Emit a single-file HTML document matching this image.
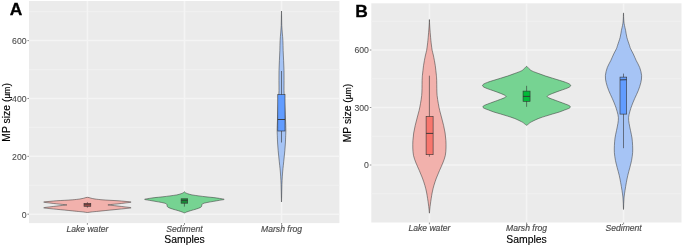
<!DOCTYPE html>
<html><head><meta charset="utf-8"><style>
html,body{margin:0;padding:0;background:#fff;width:685px;height:247px;overflow:hidden}
svg{display:block}
text{filter:url(#gs)}
text.rot{filter:none}
text{font-family:"Liberation Sans",sans-serif}
.tk{font-size:8.7px;fill:#4D4D4D;stroke:#4D4D4D;stroke-width:0.1px}
.tkx{font-size:8.6px;fill:#4D4D4D;font-style:italic;stroke:#4D4D4D;stroke-width:0.18px}
.ttl{font-size:10.4px;fill:#000;stroke:#000;stroke-width:0.15px}
.mu{font-size:8.5px}
.lab{font-size:17.4px;font-weight:bold;fill:#000;stroke:#000;stroke-width:0.3px}
</style></head><body>
<svg width="685" height="247" viewBox="0 0 685 247">
<defs><filter id="gs" x="-10%" y="-10%" width="120%" height="120%"><feColorMatrix type="saturate" values="1"/></filter></defs>
<g>
<rect width="685" height="247" fill="#fff"/>
<rect x="29.00" y="1.00" width="310.40" height="222.10" fill="#EBEBEB"/>
<line x1="29.00" x2="339.40" y1="185.27" y2="185.27" stroke="rgb(240,240,240)" stroke-width="1.2"/>
<line x1="29.00" x2="339.40" y1="127.40" y2="127.40" stroke="rgb(240,240,240)" stroke-width="1.2"/>
<line x1="29.00" x2="339.40" y1="69.53" y2="69.53" stroke="rgb(240,240,240)" stroke-width="1.2"/>
<line x1="29.00" x2="339.40" y1="11.67" y2="11.67" stroke="rgb(240,240,240)" stroke-width="1.2"/>
<line x1="29.00" x2="339.40" y1="214.20" y2="214.20" stroke="rgb(244,244,244)" stroke-width="1.5"/>
<line x1="29.00" x2="339.40" y1="156.33" y2="156.33" stroke="rgb(244,244,244)" stroke-width="1.5"/>
<line x1="29.00" x2="339.40" y1="98.47" y2="98.47" stroke="rgb(244,244,244)" stroke-width="1.5"/>
<line x1="29.00" x2="339.40" y1="40.60" y2="40.60" stroke="rgb(244,244,244)" stroke-width="1.5"/>
<line x1="87.40" x2="87.40" y1="1.00" y2="223.10" stroke="rgb(244,244,244)" stroke-width="1.5"/>
<line x1="184.50" x2="184.50" y1="1.00" y2="223.10" stroke="rgb(244,244,244)" stroke-width="1.5"/>
<line x1="281.60" x2="281.60" y1="1.00" y2="223.10" stroke="rgb(244,244,244)" stroke-width="1.5"/>
<path d="M87.40,197.30 C88.60,197.30 89.73,197.92 91.00,198.20 C92.27,198.48 93.17,198.73 95.00,199.00 C96.83,199.27 99.50,199.58 102.00,199.80 C104.50,200.02 107.33,200.14 110.00,200.30 C112.67,200.46 115.50,200.57 118.00,200.75 C120.50,200.93 122.82,201.12 125.00,201.35 C127.18,201.57 131.10,201.82 131.10,202.10 C131.10,202.38 127.18,202.71 125.00,203.00 C122.82,203.29 120.17,203.61 118.00,203.85 C115.83,204.09 113.68,204.27 112.00,204.45 C110.32,204.62 107.90,204.74 107.90,204.90 C107.90,205.06 110.32,205.21 112.00,205.40 C113.68,205.59 115.83,205.80 118.00,206.05 C120.17,206.30 122.82,206.61 125.00,206.90 C127.18,207.19 131.10,207.52 131.10,207.80 C131.10,208.08 127.18,208.35 125.00,208.60 C122.82,208.85 120.50,209.05 118.00,209.30 C115.50,209.55 112.67,209.83 110.00,210.10 C107.33,210.37 104.50,210.65 102.00,210.90 C99.50,211.15 96.83,211.42 95.00,211.60 C93.17,211.78 92.27,211.85 91.00,212.00 C89.73,212.15 88.60,212.50 87.40,212.50 C86.20,212.50 85.07,212.15 83.80,212.00 C82.53,211.85 81.63,211.78 79.80,211.60 C77.97,211.42 75.30,211.15 72.80,210.90 C70.30,210.65 67.47,210.37 64.80,210.10 C62.13,209.83 59.30,209.55 56.80,209.30 C54.30,209.05 51.98,208.85 49.80,208.60 C47.62,208.35 43.70,208.08 43.70,207.80 C43.70,207.52 47.62,207.19 49.80,206.90 C51.98,206.61 54.63,206.30 56.80,206.05 C58.97,205.80 61.12,205.59 62.80,205.40 C64.48,205.21 66.90,205.06 66.90,204.90 C66.90,204.74 64.48,204.62 62.80,204.45 C61.12,204.27 58.97,204.09 56.80,203.85 C54.63,203.61 51.98,203.29 49.80,203.00 C47.62,202.71 43.70,202.38 43.70,202.10 C43.70,201.82 47.62,201.57 49.80,201.35 C51.98,201.12 54.30,200.93 56.80,200.75 C59.30,200.57 62.13,200.46 64.80,200.30 C67.47,200.14 70.30,200.02 72.80,199.80 C75.30,199.58 77.97,199.27 79.80,199.00 C81.63,198.73 82.53,198.48 83.80,198.20 C85.07,197.92 86.20,197.30 87.40,197.30 Z" fill="rgb(242,177,172)" stroke="#333333" stroke-width="0.65" stroke-opacity="0.8"/>
<line x1="87.4" x2="87.4" y1="202.2" y2="207.7" stroke="#333333" stroke-width="0.6"/>
<rect x="84.0" y="203.3" width="6.8" height="3.0" fill="#B4534C" stroke="#333333" stroke-width="0.6"/>
<line x1="84.0" x2="90.8" y1="204.8" y2="204.8" stroke="#333333" stroke-width="0.8"/>
<path d="M184.40,191.80 C184.73,191.80 184.85,192.38 185.40,192.70 C185.95,193.02 186.60,193.33 187.70,193.70 C188.80,194.07 190.13,194.53 192.00,194.90 C193.87,195.27 196.57,195.58 198.90,195.90 C201.23,196.22 203.50,196.52 206.00,196.80 C208.50,197.08 211.65,197.33 213.90,197.60 C216.15,197.87 217.78,198.11 219.50,198.40 C221.22,198.69 224.20,199.03 224.20,199.35 C224.20,199.67 221.22,199.98 219.50,200.30 C217.78,200.62 215.98,200.93 213.90,201.30 C211.82,201.67 208.82,202.12 207.00,202.50 C205.18,202.88 203.87,203.23 203.00,203.60 C202.13,203.97 202.02,204.28 201.80,204.70 C201.58,205.12 201.92,205.65 201.70,206.10 C201.48,206.55 201.38,206.92 200.50,207.40 C199.62,207.88 198.07,208.45 196.40,209.00 C194.73,209.55 192.13,210.20 190.50,210.70 C188.87,211.20 187.62,211.63 186.60,212.00 C185.58,212.37 185.13,212.90 184.40,212.90 C183.67,212.90 183.22,212.37 182.20,212.00 C181.18,211.63 179.93,211.20 178.30,210.70 C176.67,210.20 174.07,209.55 172.40,209.00 C170.73,208.45 169.18,207.88 168.30,207.40 C167.42,206.92 167.32,206.55 167.10,206.10 C166.88,205.65 167.22,205.12 167.00,204.70 C166.78,204.28 166.67,203.97 165.80,203.60 C164.93,203.23 163.62,202.88 161.80,202.50 C159.98,202.12 156.98,201.67 154.90,201.30 C152.82,200.93 151.02,200.62 149.30,200.30 C147.58,199.98 144.60,199.67 144.60,199.35 C144.60,199.03 147.58,198.69 149.30,198.40 C151.02,198.11 152.65,197.87 154.90,197.60 C157.15,197.33 160.30,197.08 162.80,196.80 C165.30,196.52 167.57,196.22 169.90,195.90 C172.23,195.58 174.93,195.27 176.80,194.90 C178.67,194.53 180.00,194.07 181.10,193.70 C182.20,193.33 182.85,193.02 183.40,192.70 C183.95,192.38 184.07,191.80 184.40,191.80 Z" fill="rgb(118,211,146)" stroke="#333333" stroke-width="0.65" stroke-opacity="0.8"/>
<line x1="184.4" x2="184.4" y1="199.0" y2="206.6" stroke="#333333" stroke-width="0.6"/>
<rect x="181.1" y="198.8" width="6.6" height="4.4" fill="#178A36" stroke="#333333" stroke-width="0.6"/>
<line x1="181.1" x2="187.7" y1="200.4" y2="200.4" stroke="#333333" stroke-width="0.8"/>
<path d="M281.50,11.00 C281.55,11.00 281.60,15.58 281.65,18.00 C281.70,20.42 281.69,23.00 281.80,25.50 C281.91,28.00 282.12,30.50 282.30,33.00 C282.48,35.50 282.76,37.58 282.90,40.50 C283.04,43.42 283.03,47.17 283.15,50.50 C283.27,53.83 283.46,57.17 283.60,60.50 C283.74,63.83 283.93,67.17 284.00,70.50 C284.07,73.83 284.05,77.17 284.05,80.50 C284.05,83.83 283.94,87.25 284.00,90.50 C284.06,93.75 284.23,96.75 284.40,100.00 C284.57,103.25 284.83,107.00 285.00,110.00 C285.17,113.00 285.27,115.42 285.40,118.00 C285.52,120.58 285.68,123.33 285.75,125.50 C285.82,127.67 285.86,129.33 285.85,131.00 C285.84,132.67 285.77,133.50 285.70,135.50 C285.62,137.50 285.54,140.50 285.40,143.00 C285.26,145.50 285.07,148.00 284.85,150.50 C284.63,153.00 284.36,155.50 284.10,158.00 C283.84,160.50 283.54,163.17 283.30,165.50 C283.06,167.83 282.85,169.50 282.65,172.00 C282.45,174.50 282.23,177.83 282.10,180.50 C281.97,183.17 281.92,185.58 281.85,188.00 C281.78,190.42 281.76,192.67 281.70,195.00 C281.64,197.33 281.57,202.00 281.50,202.00 C281.43,202.00 281.36,197.33 281.30,195.00 C281.24,192.67 281.22,190.42 281.15,188.00 C281.08,185.58 281.03,183.17 280.90,180.50 C280.77,177.83 280.55,174.50 280.35,172.00 C280.15,169.50 279.94,167.83 279.70,165.50 C279.46,163.17 279.16,160.50 278.90,158.00 C278.64,155.50 278.37,153.00 278.15,150.50 C277.93,148.00 277.74,145.50 277.60,143.00 C277.46,140.50 277.38,137.50 277.30,135.50 C277.23,133.50 277.16,132.67 277.15,131.00 C277.14,129.33 277.18,127.67 277.25,125.50 C277.32,123.33 277.48,120.58 277.60,118.00 C277.73,115.42 277.83,113.00 278.00,110.00 C278.17,107.00 278.43,103.25 278.60,100.00 C278.77,96.75 278.94,93.75 279.00,90.50 C279.06,87.25 278.95,83.83 278.95,80.50 C278.95,77.17 278.93,73.83 279.00,70.50 C279.07,67.17 279.26,63.83 279.40,60.50 C279.54,57.17 279.73,53.83 279.85,50.50 C279.97,47.17 279.96,43.42 280.10,40.50 C280.24,37.58 280.52,35.50 280.70,33.00 C280.88,30.50 281.09,28.00 281.20,25.50 C281.31,23.00 281.30,20.42 281.35,18.00 C281.40,15.58 281.45,11.00 281.50,11.00 Z" fill="rgb(166,196,245)" stroke="#333333" stroke-width="0.65" stroke-opacity="0.8"/>
<line x1="281.50" x2="281.50" y1="71" y2="142.5" stroke="#333333" stroke-width="0.6"/>
<rect x="277.8" y="94.6" width="7.2" height="36.4" fill="#619CFF" stroke="#333333" stroke-width="0.6"/>
<line x1="277.8" x2="285.0" y1="119.5" y2="119.5" stroke="#333333" stroke-width="0.9"/>
<line x1="27.4" x2="29" y1="214.20" y2="214.20" stroke="#333" stroke-width="0.55"/>
<text x="26.6" y="217.50" text-anchor="end" class="tk">0</text>
<line x1="27.4" x2="29" y1="156.33" y2="156.33" stroke="#333" stroke-width="0.55"/>
<text x="26.6" y="159.63" text-anchor="end" class="tk">200</text>
<line x1="27.4" x2="29" y1="98.47" y2="98.47" stroke="#333" stroke-width="0.55"/>
<text x="26.6" y="101.77" text-anchor="end" class="tk">400</text>
<line x1="27.4" x2="29" y1="40.60" y2="40.60" stroke="#333" stroke-width="0.55"/>
<text x="26.6" y="43.90" text-anchor="end" class="tk">600</text>
<line x1="87.40" x2="87.40" y1="223" y2="224.8" stroke="#333" stroke-width="0.55"/>
<line x1="184.50" x2="184.50" y1="223" y2="224.8" stroke="#333" stroke-width="0.55"/>
<line x1="281.60" x2="281.60" y1="223" y2="224.8" stroke="#333" stroke-width="0.55"/>
<text x="87.40" y="231.8" text-anchor="middle" class="tkx">Lake water</text>
<text x="184.50" y="231.8" text-anchor="middle" class="tkx">Sediment</text>
<text x="281.60" y="231.8" text-anchor="middle" class="tkx">Marsh frog</text>
<text x="184.5" y="242.5" text-anchor="middle" class="ttl">Samples</text>
<g filter="url(#gs)"><text transform="translate(9.9,141.7) rotate(-90)" class="ttl rot">MP size (<tspan class="mu">µm</tspan>)</text></g>
<text x="9.8" y="14.5" class="lab">A</text>
<rect x="371.30" y="3.30" width="310.20" height="219.20" fill="#EBEBEB"/>
<line x1="371.30" x2="681.50" y1="193.75" y2="193.75" stroke="rgb(240,240,240)" stroke-width="1.2"/>
<line x1="371.30" x2="681.50" y1="136.25" y2="136.25" stroke="rgb(240,240,240)" stroke-width="1.2"/>
<line x1="371.30" x2="681.50" y1="78.75" y2="78.75" stroke="rgb(240,240,240)" stroke-width="1.2"/>
<line x1="371.30" x2="681.50" y1="21.25" y2="21.25" stroke="rgb(240,240,240)" stroke-width="1.2"/>
<line x1="371.30" x2="681.50" y1="165.00" y2="165.00" stroke="rgb(244,244,244)" stroke-width="1.5"/>
<line x1="371.30" x2="681.50" y1="107.50" y2="107.50" stroke="rgb(244,244,244)" stroke-width="1.5"/>
<line x1="371.30" x2="681.50" y1="50.00" y2="50.00" stroke="rgb(244,244,244)" stroke-width="1.5"/>
<line x1="429.40" x2="429.40" y1="3.30" y2="222.50" stroke="rgb(244,244,244)" stroke-width="1.5"/>
<line x1="526.60" x2="526.60" y1="3.30" y2="222.50" stroke="rgb(244,244,244)" stroke-width="1.5"/>
<line x1="623.60" x2="623.60" y1="3.30" y2="222.50" stroke="rgb(244,244,244)" stroke-width="1.5"/>
<path d="M429.40,19.50 C429.47,19.50 429.50,22.25 429.60,24.00 C429.70,25.75 429.87,28.17 430.00,30.00 C430.13,31.83 430.25,33.25 430.40,35.00 C430.55,36.75 430.73,38.83 430.90,40.50 C431.07,42.17 431.18,43.33 431.40,45.00 C431.62,46.67 431.88,48.83 432.20,50.50 C432.52,52.17 432.93,53.33 433.30,55.00 C433.67,56.67 434.07,58.75 434.40,60.50 C434.72,62.25 435.01,63.83 435.25,65.50 C435.49,67.17 435.66,68.83 435.85,70.50 C436.04,72.17 436.26,73.83 436.40,75.50 C436.54,77.17 436.63,78.33 436.70,80.50 C436.77,82.67 436.73,86.00 436.80,88.50 C436.87,91.00 436.85,93.00 437.10,95.50 C437.35,98.00 437.87,101.00 438.30,103.50 C438.73,106.00 439.13,108.08 439.70,110.50 C440.27,112.92 441.05,115.50 441.70,118.00 C442.35,120.50 443.03,123.00 443.60,125.50 C444.17,128.00 444.72,130.50 445.10,133.00 C445.48,135.50 445.75,138.00 445.90,140.50 C446.05,143.00 446.10,145.50 446.00,148.00 C445.90,150.50 445.83,153.00 445.30,155.50 C444.77,158.00 443.77,160.50 442.80,163.00 C441.83,165.50 440.57,168.00 439.50,170.50 C438.43,173.00 437.33,175.50 436.40,178.00 C435.47,180.50 434.58,183.17 433.90,185.50 C433.22,187.83 432.75,189.83 432.30,192.00 C431.85,194.17 431.52,196.50 431.20,198.50 C430.88,200.50 430.63,202.25 430.40,204.00 C430.17,205.75 429.97,207.47 429.80,209.00 C429.63,210.53 429.53,213.20 429.40,213.20 C429.27,213.20 429.17,210.53 429.00,209.00 C428.83,207.47 428.63,205.75 428.40,204.00 C428.17,202.25 427.92,200.50 427.60,198.50 C427.28,196.50 426.95,194.17 426.50,192.00 C426.05,189.83 425.58,187.83 424.90,185.50 C424.22,183.17 423.33,180.50 422.40,178.00 C421.47,175.50 420.37,173.00 419.30,170.50 C418.23,168.00 416.97,165.50 416.00,163.00 C415.03,160.50 414.03,158.00 413.50,155.50 C412.97,153.00 412.90,150.50 412.80,148.00 C412.70,145.50 412.75,143.00 412.90,140.50 C413.05,138.00 413.32,135.50 413.70,133.00 C414.08,130.50 414.63,128.00 415.20,125.50 C415.77,123.00 416.45,120.50 417.10,118.00 C417.75,115.50 418.53,112.92 419.10,110.50 C419.67,108.08 420.07,106.00 420.50,103.50 C420.93,101.00 421.45,98.00 421.70,95.50 C421.95,93.00 421.93,91.00 422.00,88.50 C422.07,86.00 422.03,82.67 422.10,80.50 C422.17,78.33 422.26,77.17 422.40,75.50 C422.54,73.83 422.76,72.17 422.95,70.50 C423.14,68.83 423.31,67.17 423.55,65.50 C423.79,63.83 424.07,62.25 424.40,60.50 C424.72,58.75 425.13,56.67 425.50,55.00 C425.87,53.33 426.28,52.17 426.60,50.50 C426.92,48.83 427.18,46.67 427.40,45.00 C427.62,43.33 427.73,42.17 427.90,40.50 C428.07,38.83 428.25,36.75 428.40,35.00 C428.55,33.25 428.67,31.83 428.80,30.00 C428.93,28.17 429.10,25.75 429.20,24.00 C429.30,22.25 429.33,19.50 429.40,19.50 Z" fill="rgb(242,177,172)" stroke="#333333" stroke-width="0.65" stroke-opacity="0.8"/>
<line x1="429.40" x2="429.40" y1="75.7" y2="156.7" stroke="#333333" stroke-width="0.6"/>
<rect x="426.1" y="116.4" width="7.0" height="38.3" fill="#F8766D" stroke="#333333" stroke-width="0.6"/>
<line x1="426.1" x2="433.1" y1="133.4" y2="133.4" stroke="#333333" stroke-width="0.9"/>
<path d="M526.60,66.40 C527.33,66.40 527.92,67.75 528.80,68.50 C529.68,69.25 530.23,70.05 531.90,70.90 C533.57,71.75 536.50,72.73 538.80,73.60 C541.10,74.47 543.42,75.33 545.70,76.10 C547.98,76.87 550.22,77.50 552.50,78.20 C554.78,78.90 557.18,79.60 559.40,80.30 C561.62,81.00 564.13,81.78 565.80,82.40 C567.47,83.02 568.58,83.47 569.40,84.00 C570.22,84.53 570.73,85.07 570.70,85.60 C570.67,86.13 570.08,86.67 569.20,87.20 C568.32,87.73 567.03,88.18 565.40,88.80 C563.77,89.42 561.53,90.13 559.40,90.90 C557.27,91.67 554.43,92.67 552.60,93.40 C550.77,94.13 549.30,94.80 548.40,95.30 C547.50,95.80 547.20,96.02 547.20,96.40 C547.20,96.78 547.50,97.12 548.40,97.60 C549.30,98.08 550.77,98.60 552.60,99.30 C554.43,100.00 557.27,101.02 559.40,101.80 C561.53,102.58 563.80,103.38 565.40,104.00 C567.00,104.62 568.17,105.00 569.00,105.50 C569.83,106.00 570.47,106.50 570.40,107.00 C570.33,107.50 569.57,108.00 568.60,108.50 C567.63,109.00 566.13,109.42 564.60,110.00 C563.07,110.58 561.42,111.33 559.40,112.00 C557.38,112.67 554.78,113.32 552.50,114.00 C550.22,114.68 547.98,115.37 545.70,116.10 C543.42,116.83 541.10,117.48 538.80,118.40 C536.50,119.32 533.57,120.73 531.90,121.60 C530.23,122.47 529.68,122.98 528.80,123.60 C527.92,124.22 527.33,125.30 526.60,125.30 C525.87,125.30 525.28,124.22 524.40,123.60 C523.52,122.98 522.97,122.47 521.30,121.60 C519.63,120.73 516.70,119.32 514.40,118.40 C512.10,117.48 509.78,116.83 507.50,116.10 C505.22,115.37 502.98,114.68 500.70,114.00 C498.42,113.32 495.82,112.67 493.80,112.00 C491.78,111.33 490.13,110.58 488.60,110.00 C487.07,109.42 485.57,109.00 484.60,108.50 C483.63,108.00 482.87,107.50 482.80,107.00 C482.73,106.50 483.37,106.00 484.20,105.50 C485.03,105.00 486.20,104.62 487.80,104.00 C489.40,103.38 491.67,102.58 493.80,101.80 C495.93,101.02 498.77,100.00 500.60,99.30 C502.43,98.60 503.90,98.08 504.80,97.60 C505.70,97.12 506.00,96.78 506.00,96.40 C506.00,96.02 505.70,95.80 504.80,95.30 C503.90,94.80 502.43,94.13 500.60,93.40 C498.77,92.67 495.93,91.67 493.80,90.90 C491.67,90.13 489.43,89.42 487.80,88.80 C486.17,88.18 484.88,87.73 484.00,87.20 C483.12,86.67 482.53,86.13 482.50,85.60 C482.47,85.07 482.98,84.53 483.80,84.00 C484.62,83.47 485.73,83.02 487.40,82.40 C489.07,81.78 491.58,81.00 493.80,80.30 C496.02,79.60 498.42,78.90 500.70,78.20 C502.98,77.50 505.22,76.87 507.50,76.10 C509.78,75.33 512.10,74.47 514.40,73.60 C516.70,72.73 519.63,71.75 521.30,70.90 C522.97,70.05 523.52,69.25 524.40,68.50 C525.28,67.75 525.87,66.40 526.60,66.40 Z" fill="rgb(118,211,146)" stroke="#333333" stroke-width="0.65" stroke-opacity="0.8"/>
<line x1="526.60" x2="526.60" y1="85.8" y2="106.8" stroke="#333333" stroke-width="0.6"/>
<rect x="523.05" y="91.1" width="7.0" height="10.2" fill="#00BA38" stroke="#333333" stroke-width="0.6"/>
<line x1="523.05" x2="530.05" y1="96.4" y2="96.4" stroke="#333333" stroke-width="0.9"/>
<path d="M623.50,12.90 C623.57,12.90 623.62,16.48 623.70,18.00 C623.78,19.52 623.82,20.75 623.95,22.00 C624.08,23.25 624.23,24.08 624.50,25.50 C624.77,26.92 625.20,28.50 625.60,30.50 C626.00,32.50 626.25,35.00 626.90,37.50 C627.55,40.00 628.90,43.67 629.50,45.50 C630.10,47.33 629.87,47.08 630.50,48.50 C631.13,49.92 632.35,52.00 633.30,54.00 C634.25,56.00 635.13,58.25 636.20,60.50 C637.27,62.75 638.80,65.00 639.70,67.50 C640.60,70.00 641.41,73.00 641.60,75.50 C641.79,78.00 641.40,80.00 640.85,82.50 C640.30,85.00 639.32,87.83 638.30,90.50 C637.27,93.17 635.78,96.00 634.70,98.50 C633.62,101.00 632.61,103.33 631.80,105.50 C630.99,107.67 630.38,109.50 629.85,111.50 C629.32,113.50 628.73,115.50 628.60,117.50 C628.48,119.50 628.78,121.33 629.10,123.50 C629.42,125.67 630.02,128.08 630.50,130.50 C630.98,132.92 631.65,135.50 632.00,138.00 C632.35,140.50 632.49,143.08 632.60,145.50 C632.71,147.92 632.83,150.00 632.65,152.50 C632.47,155.00 632.02,158.00 631.55,160.50 C631.08,163.00 630.48,165.00 629.85,167.50 C629.22,170.00 628.33,173.00 627.75,175.50 C627.17,178.00 626.81,180.00 626.35,182.50 C625.89,185.00 625.38,188.08 625.00,190.50 C624.62,192.92 624.31,194.92 624.10,197.00 C623.89,199.08 623.85,200.92 623.75,203.00 C623.65,205.08 623.58,209.50 623.50,209.50 C623.42,209.50 623.35,205.08 623.25,203.00 C623.15,200.92 623.11,199.08 622.90,197.00 C622.69,194.92 622.38,192.92 622.00,190.50 C621.62,188.08 621.11,185.00 620.65,182.50 C620.19,180.00 619.83,178.00 619.25,175.50 C618.67,173.00 617.78,170.00 617.15,167.50 C616.52,165.00 615.92,163.00 615.45,160.50 C614.98,158.00 614.53,155.00 614.35,152.50 C614.17,150.00 614.29,147.92 614.40,145.50 C614.51,143.08 614.65,140.50 615.00,138.00 C615.35,135.50 616.02,132.92 616.50,130.50 C616.98,128.08 617.58,125.67 617.90,123.50 C618.22,121.33 618.52,119.50 618.40,117.50 C618.27,115.50 617.68,113.50 617.15,111.50 C616.62,109.50 616.01,107.67 615.20,105.50 C614.39,103.33 613.38,101.00 612.30,98.50 C611.22,96.00 609.73,93.17 608.70,90.50 C607.68,87.83 606.70,85.00 606.15,82.50 C605.60,80.00 605.21,78.00 605.40,75.50 C605.59,73.00 606.40,70.00 607.30,67.50 C608.20,65.00 609.73,62.75 610.80,60.50 C611.87,58.25 612.75,56.00 613.70,54.00 C614.65,52.00 615.87,49.92 616.50,48.50 C617.13,47.08 616.90,47.33 617.50,45.50 C618.10,43.67 619.45,40.00 620.10,37.50 C620.75,35.00 621.00,32.50 621.40,30.50 C621.80,28.50 622.23,26.92 622.50,25.50 C622.77,24.08 622.92,23.25 623.05,22.00 C623.18,20.75 623.22,19.52 623.30,18.00 C623.38,16.48 623.43,12.90 623.50,12.90 Z" fill="rgb(166,196,245)" stroke="#333333" stroke-width="0.65" stroke-opacity="0.8"/>
<line x1="623.50" x2="623.50" y1="73.6" y2="148.2" stroke="#333333" stroke-width="0.6"/>
<rect x="620.0" y="77.1" width="6.7" height="37.0" fill="#619CFF" stroke="#333333" stroke-width="0.6"/>
<line x1="620.0" x2="626.7" y1="79.9" y2="79.7" stroke="#333333" stroke-width="0.9"/>
<line x1="369.8" x2="371.3" y1="165.00" y2="165.00" stroke="#333" stroke-width="0.55"/>
<text x="368.9" y="168.30" text-anchor="end" class="tk">0</text>
<line x1="369.8" x2="371.3" y1="107.50" y2="107.50" stroke="#333" stroke-width="0.55"/>
<text x="368.9" y="110.80" text-anchor="end" class="tk">300</text>
<line x1="369.8" x2="371.3" y1="50.00" y2="50.00" stroke="#333" stroke-width="0.55"/>
<text x="368.9" y="53.30" text-anchor="end" class="tk">600</text>
<line x1="429.40" x2="429.40" y1="222.6" y2="224.3" stroke="#333" stroke-width="0.55"/>
<line x1="526.60" x2="526.60" y1="222.6" y2="224.3" stroke="#333" stroke-width="0.55"/>
<line x1="623.60" x2="623.60" y1="222.6" y2="224.3" stroke="#333" stroke-width="0.55"/>
<text x="429.40" y="231.2" text-anchor="middle" class="tkx">Lake water</text>
<text x="526.60" y="231.2" text-anchor="middle" class="tkx">Marsh frog</text>
<text x="623.60" y="231.2" text-anchor="middle" class="tkx">Sediment</text>
<text x="526.5" y="242.5" text-anchor="middle" class="ttl">Samples</text>
<g filter="url(#gs)"><text transform="translate(351.2,142.3) rotate(-90)" class="ttl rot">MP size (<tspan class="mu">µm</tspan>)</text></g>
<text x="355.2" y="17.1" class="lab">B</text>
</g>
</svg>
</body></html>
